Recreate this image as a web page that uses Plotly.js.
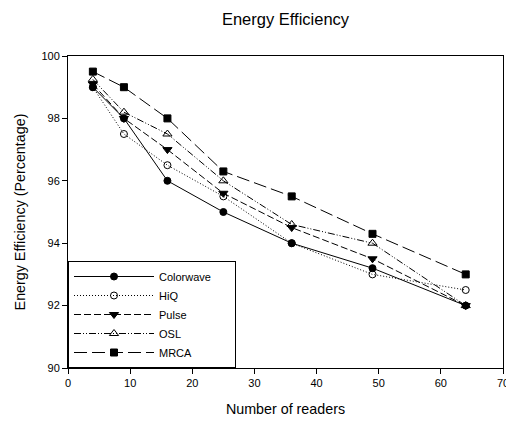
<!DOCTYPE html>
<html>
<head>
<meta charset="utf-8">
<script src="https://cdn.plot.ly/plotly-3.0.1.min.js"></script>
<style>html,body{margin:0;padding:0;background:#fff;}#chart{width:506px;height:421px;}</style>
</head>
<body>
<div id="chart"></div>
<script>
const readers = [4, 9, 16, 25, 36, 49, 64];
const colorwave = [99.0, 98.0, 96.0, 95.0, 94.0, 93.2, 92.0];
const hiq       = [99.0, 97.5, 96.5, 95.5, 94.0, 93.0, 92.5];
const pulse     = [99.1, 98.0, 97.0, 95.6, 94.5, 93.5, 92.0];
const osl       = [99.25, 98.2, 97.5, 96.0, 94.6, 94.0, 92.0];
const mrca      = [99.5, 99.0, 98.0, 96.3, 95.5, 94.3, 93.0];
const seriesNames = ["Colorwave", "HiQ", "Pulse", "OSL", "MRCA"];
const xTicks = [0, 10, 20, 30, 40, 50, 60, 70];
const yTicks = [90, 92, 94, 96, 98, 100];

const seriesData = [colorwave, hiq, pulse, osl, mrca];
const styles = [
  {dash: "solid", symbol: "circle", size: 7},
  {dash: "1px,2px", symbol: "circle-open", size: 7},
  {dash: "7px,3px", symbol: "triangle-down", size: 8},
  {dash: "7px,2px,1px,2px,1px,2px", symbol: "triangle-up-open", size: 8},
  {dash: "13px,5px", symbol: "square", size: 7}
];

// pad legend labels on the right so the legend box is as wide as in the reference
const pad = "\u00a0".repeat(6);

const traces = seriesData.map((ys, i) => ({
  x: readers, y: ys, name: seriesNames[i] + (i === 0 ? pad : ""), type: "scatter", mode: "lines+markers",
  line: {color: "#000", width: 1, dash: styles[i].dash},
  marker: {color: "#000", symbol: styles[i].symbol, size: styles[i].size,
           line: {color: "#000", width: 1}}
}));

const font = "Liberation Sans, Arial, sans-serif";
const layout = {
  width: 506, height: 421,
  margin: {l: 68, r: 3, t: 56, b: 53},
  paper_bgcolor: "#fff", plot_bgcolor: "#fff",
  font: {family: font, color: "#000", size: 11},
  title: {text: "Energy Efficiency", font: {size: 16.5, family: font, color: "#000"},
          x: 0.5, xref: "paper", xanchor: "center", y: 0.955, yanchor: "middle"},
  xaxis: {range: [0, 70], tickvals: xTicks, ticktext: xTicks.map(String),
          showgrid: false, zeroline: false, showline: true, mirror: true,
          linecolor: "#000", linewidth: 1, ticks: "outside", ticklen: 5, tickcolor: "#000",
          tickfont: {size: 11}, automargin: false, ticklabeloverflow: "allow",
          title: {text: "Number of readers", font: {size: 14.3}, standoff: 15}},
  yaxis: {range: [90, 100], tickvals: yTicks, ticktext: yTicks.map(String),
          showgrid: false, zeroline: false, showline: true, mirror: true,
          linecolor: "#000", linewidth: 1, ticks: "outside", ticklen: 5, tickcolor: "#000",
          tickfont: {size: 11}, automargin: false, ticklabeloverflow: "allow",
          title: {text: "Energy Efficiency (Percentage)", font: {size: 14.3}, standoff: 12}},
  legend: {x: 0, y: 0, xanchor: "left", yanchor: "bottom",
           bgcolor: "#fff", bordercolor: "#000", borderwidth: 1,
           font: {size: 11, family: font}, tracegroupgap: 0,
           itemwidth: 80},
  showlegend: true
};

Plotly.newPlot("chart", traces, layout, {staticPlot: true, displayModeBar: false});
</script>
</body>
</html>
